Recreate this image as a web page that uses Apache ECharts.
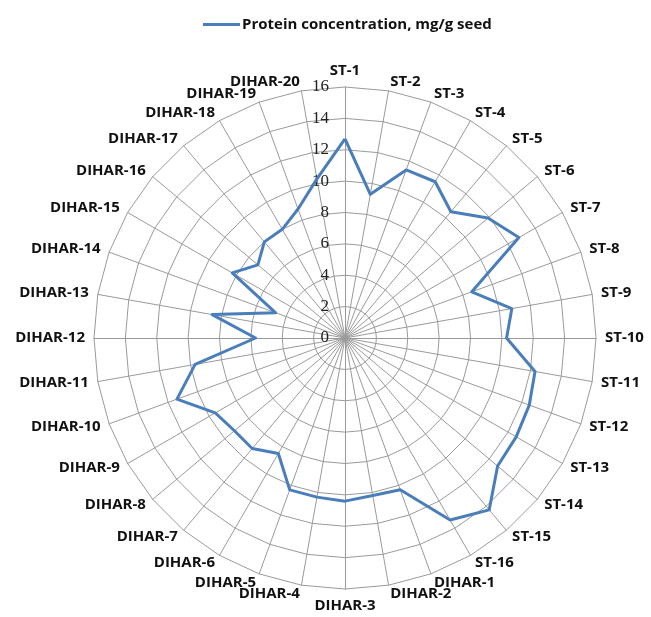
<!DOCTYPE html>
<html>
<head>
<meta charset="utf-8">
<script src="https://cdn.jsdelivr.net/npm/echarts@6/dist/echarts.min.js"></script>
<style>
html,body{margin:0;padding:0;background:#fff;}
#chart{width:651px;height:617px;}
</style>
</head>
<body>
<div id="chart"></div>
<script>
const categories = ['ST-1','ST-2','ST-3','ST-4','ST-5','ST-6','ST-7','ST-8','ST-9','ST-10','ST-11','ST-12','ST-13','ST-14','ST-15','ST-16',
  'DIHAR-1','DIHAR-2','DIHAR-3','DIHAR-4','DIHAR-5','DIHAR-6','DIHAR-7','DIHAR-8','DIHAR-9','DIHAR-10',
  'DIHAR-11','DIHAR-12','DIHAR-13','DIHAR-14','DIHAR-15','DIHAR-16','DIHAR-17','DIHAR-18','DIHAR-19','DIHAR-20'];
const seriesName = 'Protein concentration, mg/g seed';
const proteinValues = [12.7, 9.3, 11.4, 11.5, 10.5, 11.9, 12.8, 8.6, 10.8, 10.3, 12.3, 12.5, 12.6, 12.7, 14.3, 13.4,
  10.3, 10.2, 10.4, 10.3, 10.3, 8.5, 9.2, 9.2, 9.55, 11.4, 9.7, 5.7, 8.6, 4.7, 8.3, 7.25, 8.0, 8.0, 8.75, 10.3];
const axisMin = 0, axisMax = 16, axisStep = 2;

// ECharts radar runs counter-clockwise; reorder so categories run clockwise from the top.
const order = [0].concat(categories.map((_, i) => categories.length - 1 - i).slice(0, categories.length - 1));
const cwCategories = order.map(i => categories[i]);
const cwValues = order.map(i => proteinValues[i]);

const chart = echarts.init(document.getElementById('chart'));
const gridColor = '#9a9a9a';
chart.setOption({
  animation: false,
  legend: {
    data: [seriesName],
    left: 198, top: 12,
    icon: 'rect', itemWidth: 37, itemHeight: 3, itemGap: 4,
    textStyle: { fontFamily: 'Open Sans', fontWeight: 'bold', fontSize: 15, color: '#111', padding: [0, 0, 0, -3] }
  },
  radar: {
    center: [345, 338],
    radius: 251,
    startAngle: 90,
    shape: 'polygon',
    splitNumber: (axisMax - axisMin) / axisStep,
    indicator: cwCategories.map((c, i) => {
      const ind = { name: c, min: axisMin, max: axisMax };
      if (i === 0) ind.axisLabel = { show: true };
      return ind;
    }),
    axisName: { color: '#111', fontFamily: 'Open Sans', fontWeight: 'bold', fontSize: 15 },
    nameGap: 9,
    axisLine: { lineStyle: { color: gridColor, width: 1 } },
    axisTick: { show: false },
    axisLabel: { show: false, color: '#222', fontFamily: 'Liberation Serif', fontSize: 17, margin: 16 },
    splitLine: { lineStyle: { color: gridColor, width: 1 } },
    splitArea: { show: false }
  },
  series: [{
    type: 'radar',
    symbol: 'none',
    lineStyle: { color: '#4a7ebb', width: 3 },
    itemStyle: { color: '#4a7ebb' },
    data: [{ name: seriesName, value: cwValues }]
  }]
});
</script>
</body>
</html>
